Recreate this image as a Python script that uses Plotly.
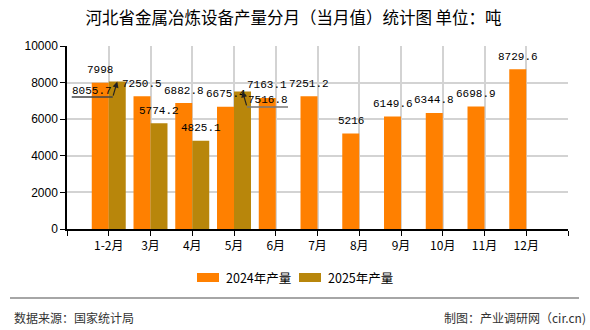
import plotly.graph_objects as go

categories = ["1-2月", "3月", "4月", "5月", "6月", "7月", "8月", "9月", "10月", "11月", "12月"]
series_names = ["2024年产量", "2025年产量"]
values_2024 = [7998, 7250.5, 6882.8, 6675.4, 7163.1, 7251.2, 5216, 6149.6, 6344.8, 6698.9, 8729.6]
values_2025 = [8055.7, 5774.2, 4825.1, 7516.8, None, None, None, None, None, None, None]
colors = ["#FF8000", "#B8860B"]
title_text = "河北省金属冶炼设备产量分月（当月值）统计图 单位：吨"
source_text = "数据来源：国家统计局"
credit_text = "制图：产业调研网（cir.cn)"
y_ticks = [0, 2000, 4000, 6000, 8000, 10000]
y_tick_labels = ["0", "2000", "4000", "6000", "8000", "10000"]

W, H = 590, 330
L, R, T, B = 67, 22, 46, 101
PW, PH = W - L - R, H - T - B

def px(x):
    return (x - L) / PW

def py(y):
    return (H - B - y) / PH

CJK = "Noto Sans CJK SC"
MONO = "Liberation Mono"

bargap = 0.186
bw = (1 - bargap) / 2
idx = list(range(len(categories)))

fig = go.Figure()
for name, vals, col in zip(series_names, [values_2024, values_2025], colors):
    fig.add_trace(go.Bar(x=idx, y=vals, name=name, marker=dict(color=col, line=dict(width=0)),
                         showlegend=False, hoverinfo="skip"))

annotations = []
shapes = []
arrowed = {0, 3}
for i, v in enumerate(values_2024):
    annotations.append(dict(x=i - bw / 2, y=v, xref="x", yref="y", text=str(v), showarrow=False,
                            yshift=12.5, yanchor="middle", xanchor="center",
                            font=dict(family=MONO, size=11, color="#000")))
for i, v in enumerate(values_2025):
    if v is None:
        continue
    xc = i + bw / 2
    if i in arrowed:
        sgn = -1 if i == 0 else 1
        annotations.append(dict(x=xc, y=v, xref="x", yref="y", ax=sgn * 4.5, ay=15.5,
                                axref="pixel", ayref="pixel", text="", showarrow=True,
                                arrowhead=2, arrowsize=1, arrowwidth=1.2, arrowcolor="#222"))
        x0, x1 = (-45.5, -4.5) if sgn < 0 else (4.5, 45.5)
        shapes.append(dict(type="line", xref="x", yref="y", xsizemode="pixel", ysizemode="pixel",
                           xanchor=xc, yanchor=v, x0=x0, x1=x1, y0=-15.5, y1=-15.5,
                           line=dict(color="#444" if sgn < 0 else "#777", width=1.5)))
        annotations.append(dict(x=xc, y=v, xref="x", yref="y", text=str(v), showarrow=False,
                                xshift=sgn * 25.5, yshift=-9, yanchor="middle", xanchor="center",
                                font=dict(family=MONO, size=11, color="#000")))
    else:
        annotations.append(dict(x=xc, y=v, xref="x", yref="y", text=str(v), showarrow=False,
                                yshift=12.5, yanchor="middle", xanchor="center",
                                font=dict(family=MONO, size=11, color="#000")))

# legend (manual)
leg = [(197, 219, 224), (299, 321, 326)]
for (s0, s1, tx), name, col in zip(leg, series_names, colors):
    shapes.append(dict(type="rect", xref="paper", yref="paper", x0=px(s0), x1=px(s1),
                       y0=py(282), y1=py(273), fillcolor=col, line=dict(width=0)))
    annotations.append(dict(x=px(tx), y=py(277.5), xref="paper", yref="paper", text=name,
                            showarrow=False, xanchor="left", yanchor="middle",
                            font=dict(family=CJK, size=12.5, color="#000")))

# footer
shapes.append(dict(type="line", xref="paper", yref="paper", x0=px(10), x1=px(579), y0=py(298), y1=py(298),
                   line=dict(color="#888", width=1.5)))
annotations.append(dict(x=px(12), y=py(317), xref="paper", yref="paper", text=source_text, showarrow=False,
                        xanchor="left", yanchor="middle", font=dict(family=CJK, size=12, color="#333")))
annotations.append(dict(x=px(588), y=py(317), xref="paper", yref="paper", text=credit_text, showarrow=False,
                        xanchor="right", yanchor="middle", font=dict(family=CJK, size=12, color="#333")))

fig.update_layout(
    width=W, height=H, margin=dict(l=L, r=R, t=T, b=B),
    paper_bgcolor="white", plot_bgcolor="white",
    barmode="group", bargap=bargap, bargroupgap=0,
    title=dict(text=title_text, x=293.5 / W, xref="container", xanchor="center",
               y=1 - 18 / H, yref="container", yanchor="middle",
               font=dict(family=CJK, size=16.5, color="#000")),
    xaxis=dict(range=[-1, 11], tickmode="array", tickvals=[-1] + idx + [11], ticktext=[""] + categories + [""],
               showgrid=True, gridcolor="#d3d3d3", gridwidth=1.5, zeroline=False,
               showline=True, linecolor="#000", linewidth=1.5, ticks="outside", ticklen=5, tickcolor="#000",
               tickfont=dict(family=CJK, size=12, color="#000")),
    yaxis=dict(range=[0, 10000], tickmode="array", tickvals=y_ticks, ticktext=y_tick_labels,
               showgrid=True, gridcolor="#d3d3d3",
               gridwidth=1.5, zeroline=False, showline=True, linecolor="#000", linewidth=1.5,
               ticks="outside", ticklen=5, tickcolor="#000",
               tickfont=dict(family="Liberation Sans", size=12, color="#000")),
    annotations=annotations, shapes=shapes, showlegend=False,
)

fig.write_html("out.html")
